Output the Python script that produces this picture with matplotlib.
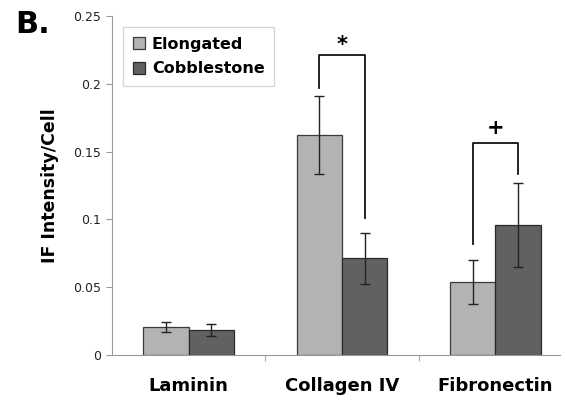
import matplotlib
matplotlib.use('Agg')
import matplotlib.pyplot as plt
import numpy as np

# values
categories = ['Laminin', 'Collagen IV', 'Fibronectin']
elongated = [0.0209, 0.1623, 0.0538]
elongated_err = [0.0038, 0.0285, 0.0165]
cobblestone = [0.0184, 0.0712, 0.0958]
cobblestone_err = [0.0047, 0.0190, 0.0310]

# significance brackets: (category index, top, left leg bottom, right leg bottom, symbol, symbol y)
brackets = [(1, 0.2215, 0.1972, 0.1014, '*', 0.221),
            (2, 0.1560, 0.0815, 0.1338, '+', 0.160)]

light = '#b3b3b3'
dark = '#616161'
width = 0.295

fig = plt.figure(figsize=(5.65, 4.0), dpi=100)
ax = fig.add_axes([0.198, 0.1125, 0.793, 0.8475])

x = np.arange(len(categories))
ax.bar(x - width / 2, elongated, width, color=light, edgecolor='#3a3a3a', linewidth=0.9,
       label='Elongated', zorder=2)
ax.bar(x + width / 2, cobblestone, width, color=dark, edgecolor='#2a2a2a', linewidth=0.9,
       label='Cobblestone', zorder=2)
ax.errorbar(x - width / 2, elongated, yerr=elongated_err, fmt='none', ecolor='#222222',
            elinewidth=1.0, capsize=3.6, capthick=1.0, zorder=3)
ax.errorbar(x + width / 2, cobblestone, yerr=cobblestone_err, fmt='none', ecolor='#222222',
            elinewidth=1.0, capsize=3.6, capthick=1.0, zorder=3)

for i, top, lbot, rbot, sym, sy in brackets:
    xl = i - width / 2
    xr = i + width / 2
    ax.plot([xl, xl, xr, xr], [lbot, top, top, rbot], color='#111111', lw=1.3, zorder=4)
    ax.text(i, sy, sym, ha='center', va='bottom', fontsize=15, fontweight='bold', color='black')

ax.set_xlim(-0.5, 2.42)
ax.set_ylim(0, 0.25)
ax.set_yticks([0, 0.05, 0.1, 0.15, 0.2, 0.25])
ax.set_yticklabels(['0', '0.05', '0.1', '0.15', '0.2', '0.25'], fontsize=9, color='#222222')

# category labels centered, tick marks at group boundaries
ax.set_xticks([0.5, 1.5])
ax.set_xticklabels([])
ax.tick_params(axis='x', length=4, color='#aaaaaa', direction='out')
ax.tick_params(axis='y', length=4, color='#999999', pad=4)
for xi, name in zip(x, categories):
    ax.text(xi, -0.0165, name, transform=ax.transData, ha='center', va='top',
            fontsize=13, fontweight='bold')

for s in ['top', 'right']:
    ax.spines[s].set_visible(False)
ax.spines['left'].set_color('#999999')
ax.spines['bottom'].set_color('#999999')

ax.set_ylabel('IF Intensity/Cell', fontsize=12.5, fontweight='bold', labelpad=10)

leg = ax.legend(loc='upper left', bbox_to_anchor=(0.025, 0.967), frameon=True,
                fancybox=False, handlelength=0.75, handleheight=0.75, handletextpad=0.45,
                borderpad=0.6, borderaxespad=0, labelspacing=0.6,
                prop={'weight': 'bold', 'size': 11.5})
leg.get_frame().set_edgecolor('#cccccc')
leg.get_frame().set_linewidth(1.0)

fig.text(0.027, 0.975, 'B.', fontsize=22, fontweight='bold', va='top', ha='left')

fig.savefig('out.png', dpi=100)
